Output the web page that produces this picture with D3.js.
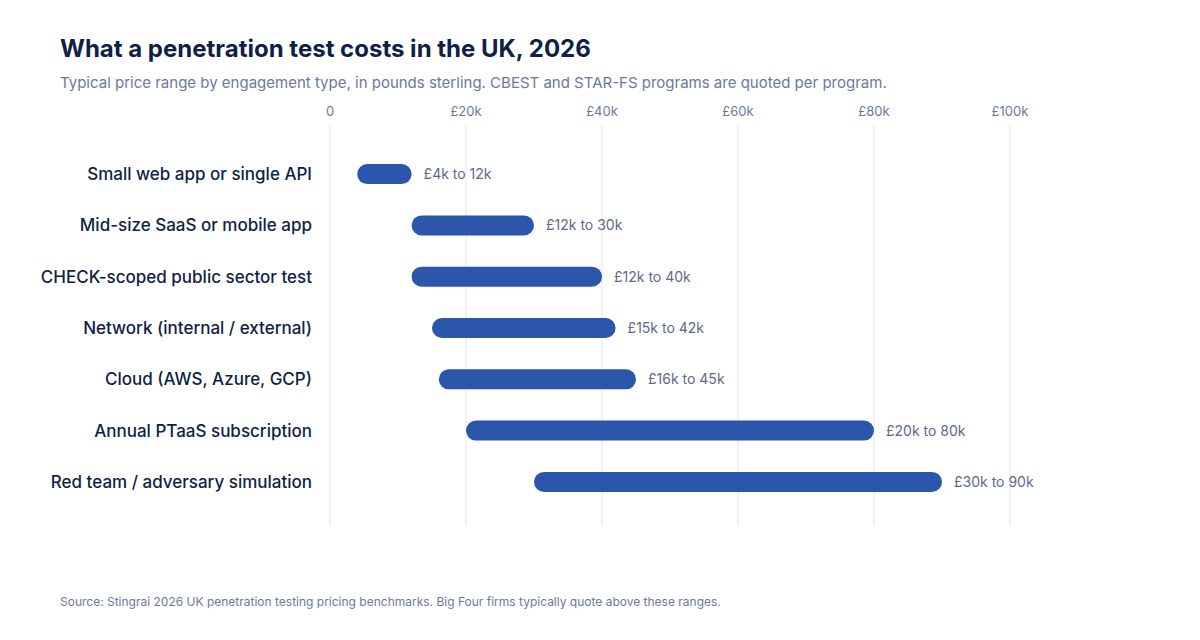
<!DOCTYPE html>
<html><head><meta charset="utf-8">
<script src="https://cdn.jsdelivr.net/npm/d3@7"></script>
<style>
body{margin:0;background:#fff;font-family:"Inter","Helvetica Neue",Arial,sans-serif;}
</style></head>
<body><svg id="chart"></svg>
<script>
var categories = ["Small web app or single API","Mid-size SaaS or mobile app","CHECK-scoped public sector test","Network (internal / external)","Cloud (AWS, Azure, GCP)","Annual PTaaS subscription","Red team / adversary simulation"];
var lows = [4,12,12,15,16,20,30];
var highs = [12,30,40,42,45,80,90];
var ticks = [0,20,40,60,80,100];
var tickLabels = ["0","£20k","£40k","£60k","£80k","£100k"];

var width = 1200, height = 640;
var svg = d3.select("#chart").attr("width",width).attr("height",height);

var x = d3.scaleLinear().domain([0,100]).range([330,1010]);
var y = d3.scaleBand().domain(categories).range([132,524]).padding(0.64);

svg.append("text").attr("x",60).attr("y",57).attr("font-size",24).attr("font-weight",700)
	.attr("fill","#0f1f45").text("What a penetration test costs in the UK, 2026");
svg.append("text").attr("x",60).attr("y",88).attr("font-size",15).attr("fill","#6b7a99")
	.text("Typical price range by engagement type, in pounds sterling. CBEST and STAR-FS programs are quoted per program.");

// grid
var g = svg.append("g");
g.selectAll("line").data(ticks).enter().append("line")
	.attr("x1",function(d){return x(d);}).attr("x2",function(d){return x(d);})
	.attr("y1",124).attr("y2",526).attr("stroke","#e3e7f0").attr("stroke-width",1);
g.selectAll("text").data(ticks).enter().append("text")
	.attr("x",function(d){return x(d);}).attr("y",116).attr("text-anchor","middle")
	.attr("font-size",13).attr("fill","#6b7a99").text(function(d,i){return tickLabels[i];});

// bars
var rows = categories.map(function(c,i){return {c:c,lo:lows[i],hi:highs[i]};});
var r = svg.append("g").selectAll("g").data(rows).enter().append("g")
	.attr("transform",function(d){return "translate(0,"+(y(d.c)+y.bandwidth()/2)+")";});
r.append("text").attr("x",312).attr("dy","0.35em").attr("text-anchor","end")
	.attr("font-size",17).attr("font-weight",500).attr("fill","#0f1f45").text(function(d){return d.c;});
r.append("rect").attr("x",function(d){return x(d.lo);}).attr("y",-10)
	.attr("width",function(d){return x(d.hi)-x(d.lo);}).attr("height",20).attr("rx",10)
	.attr("fill","#2b56ab");
r.append("text").attr("x",function(d){return x(d.hi)+12;}).attr("dy","0.35em")
	.attr("font-size",14).attr("fill","#5b6a89").text(function(d){return "£"+d.lo+"k to "+d.hi+"k";});

svg.append("text").attr("x",60).attr("y",606).attr("font-size",12).attr("fill","#6b7a99")
	.text("Source: Stingrai 2026 UK penetration testing pricing benchmarks. Big Four firms typically quote above these ranges.");
</script></body></html>
